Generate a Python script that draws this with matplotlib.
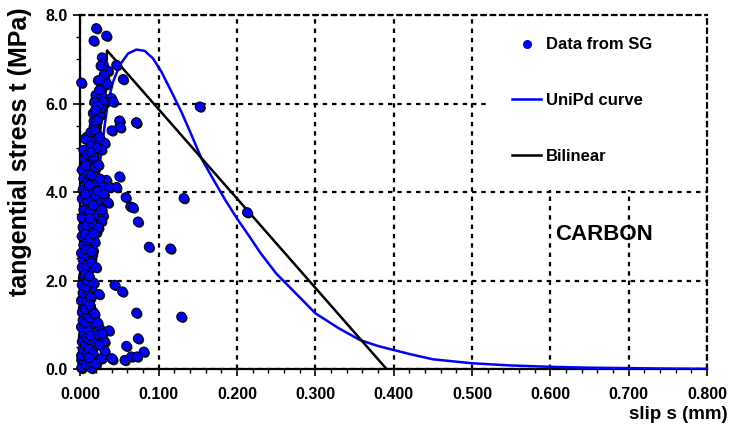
import matplotlib
matplotlib.use("Agg")
import matplotlib.pyplot as plt
import matplotlib.patheffects as pe
from matplotlib.lines import Line2D
from matplotlib.patches import Rectangle
from matplotlib.ticker import MultipleLocator, FormatStrFormatter

plt.rcParams['font.family'] = ['Liberation Sans', 'DejaVu Sans']
plt.rcParams['font.weight'] = 'bold'

# ---- data ----
sg_slip = [
    0.0203, 0.0332, 0.0170, 0.0013, 0.0276, 0.0289, 0.0353, 0.0460, 0.0545, 0.0225,
    0.0310, 0.0268, 0.0340, 0.0195, 0.0280, 0.0396, 0.0180, 0.0320,
    0.0183, 0.0289, 0.0417, 0.0161, 0.0247, 0.0500, 0.0715, 0.0500, 0.0400, 0.0170,
    0.0204, 0.0077, 0.0153, 0.0247, 0.0310, 0.0119, 0.0195, 0.0268, 0.0128, 0.0097,
    0.0153, 0.0128, 0.0500, 0.0119, 0.0247, 0.0332, 0.0183, 0.0289, 0.0374, 0.0460,
    0.0077, 0.0140, 0.0097,
    0.0097, 0.0204, 0.0580, 0.0353, 0.0640, 0.0672, 0.0119, 0.0225, 0.0268, 0.0119,
    0.0204, 0.0289, 0.0268, 0.0736, 0.0097, 0.0204, 0.0097, 0.0204, 0.0077, 0.0183,
    0.0876, 0.0077, 0.0161, 0.0055, 0.0140, 0.0055, 0.0119, 0.0055, 0.0119, 0.0033,
    0.0438, 0.0536, 0.0715, 0.1290, 0.1150, 0.1320, 0.1525, 0.2130,
    0.0365, 0.0587, 0.0736, 0.0810, 0.0566, 0.0650, 0.0723, 0.0410, 0.0268, 0.0310,
    0.0247, 0.0310,
    0.0238, 0.0055, 0.0140, 0.0055, 0.0119, 0.0033, 0.0055, 0.0161, 0.0055, 0.0119,
    0.0033, 0.0204, 0.0289, 0.0077, 0.0161, 0.0033, 0.0119, 0.0400, 0.0013, 0.0077,
    0.0013, 0.0140,
    0.0500, 0.0510, 0.0715,
    0.002, 0.004, 0.001, 0.003, 0.002, 0.004, 0.001, 0.003, 0.002, 0.004,
    0.001, 0.003, 0.002, 0.004, 0.002, 0.003, 0.001, 0.004, 0.002, 0.003,
    0.002, 0.004, 0.002, 0.003, 0.004, 0.002, 0.005, 0.004, 0.006,
    0.007, 0.009, 0.006, 0.008, 0.010, 0.007, 0.009, 0.006, 0.008, 0.010,
    0.007, 0.009, 0.006, 0.008, 0.010, 0.007, 0.009, 0.006, 0.008, 0.010,
    0.007, 0.009, 0.006, 0.008, 0.010, 0.007, 0.009,
    0.013, 0.015, 0.012, 0.016, 0.014, 0.012, 0.015, 0.013, 0.016, 0.014,
    0.013, 0.017,
    0.012, 0.016, 0.019, 0.022, 0.025, 0.014, 0.019, 0.023, 0.017, 0.021,
    0.024, 0.018, 0.021, 0.026, 0.023, 0.019, 0.024, 0.030, 0.026, 0.030,
    0.027, 0.023, 0.017, 0.015, 0.020, 0.017, 0.013, 0.018, 0.022, 0.011,
    0.016, 0.020, 0.024, 0.028, 0.0246,
    0.011, 0.013, 0.012, 0.011, 0.014, 0.012, 0.011, 0.013,
]
sg_stress = [
    7.70, 7.53, 7.42, 6.47, 7.04, 6.89, 6.74, 6.87, 6.55, 6.52,
    6.55, 6.34, 6.44, 6.19, 6.17, 6.12, 6.04, 6.04,
    6.02, 6.04, 6.04, 5.78, 5.74, 5.61, 5.57, 5.48, 5.39, 5.48,
    5.33, 5.24, 5.16, 5.14, 5.11, 4.99, 4.96, 4.96, 4.86, 4.71,
    4.66, 4.56, 4.35, 4.31, 4.21, 4.27, 4.16, 4.11, 4.11, 4.11,
    4.05, 4.05, 4.11,
    3.98, 4.01, 3.88, 3.76, 3.67, 3.65, 3.78, 3.78, 3.63, 3.58,
    3.48, 3.48, 3.35, 3.33, 3.33, 3.25, 3.14, 3.10, 2.95, 2.88,
    2.76, 2.76, 2.69, 2.58, 2.50, 2.39, 2.28, 2.20, 2.05, 2.05,
    1.90, 1.75, 1.27, 1.18, 2.72, 3.86, 5.93, 3.54,
    0.87, 0.52, 0.69, 0.39, 0.20, 0.28, 0.28, 0.22, 0.24, 0.41,
    0.92, 0.62,
    1.69, 1.86, 1.82, 1.60, 1.45, 1.37, 1.22, 1.03, 0.96, 0.81,
    0.73, 0.77, 0.62, 0.58, 0.50, 0.39, 0.32, 0.24, 0.20, 0.13,
    0.02, 0.02,
    5.61, 5.46, 5.57,
    0.05, 0.18, 0.30, 0.45, 0.62, 0.80, 0.95, 1.10, 1.28, 1.42,
    1.55, 1.72, 1.90, 2.12, 2.30, 2.48, 2.62, 2.80, 3.00, 3.20,
    3.42, 3.60, 3.85, 4.05, 4.30, 4.50, 4.75, 4.95, 5.20,
    0.10, 0.35, 0.55, 0.70, 0.88, 1.05, 1.20, 1.35, 1.52, 1.68,
    1.85, 2.00, 2.15, 2.35, 2.55, 2.70, 2.90, 3.05, 3.25, 3.45,
    3.62, 3.80, 3.95, 4.20, 4.40, 4.60, 4.85,
    0.15, 0.60, 1.15, 1.30, 2.40, 2.95, 3.30, 3.65, 4.45, 5.05,
    5.35, 5.60,
    3.55, 3.70, 3.92, 4.02, 4.30, 4.38, 4.55, 4.62, 4.80, 5.00,
    5.25, 5.40, 5.62, 5.90, 5.95, 5.85, 6.30, 6.65, 6.85, 3.95,
    3.60, 3.20, 3.05, 2.60, 2.30, 1.95, 1.62, 1.25, 1.05, 0.45,
    0.35, 0.12, 0.55, 0.80, 6.53,
    0.25, 0.75, 1.45, 2.10, 2.65, 3.40, 4.15, 4.90,
]

unipd_slip = [0.000, 0.005, 0.010, 0.015, 0.020, 0.0225, 0.0246, 0.0268, 0.031, 0.0353,
              0.0417, 0.0502, 0.0608, 0.0715, 0.0821, 0.0927, 0.1034, 0.1162, 0.129, 0.1418,
              0.1545, 0.1715, 0.185, 0.200, 0.216, 0.230, 0.250, 0.270, 0.300, 0.330,
              0.357, 0.380, 0.400, 0.420, 0.450, 0.500, 0.550, 0.600, 0.650, 0.700,
              0.750, 0.800]
unipd_stress = [0.00, 0.95, 1.90, 2.80, 3.70, 4.23, 4.61, 4.91, 5.51, 6.04,
                6.49, 6.87, 7.13, 7.22, 7.19, 7.02, 6.72, 6.27, 5.81, 5.29,
                4.76, 4.23, 3.82, 3.40, 2.99, 2.62, 2.16, 1.80, 1.26, 0.92,
                0.655, 0.52, 0.43, 0.34, 0.22, 0.13, 0.08, 0.05, 0.03, 0.02,
                0.01, 0.005]

bilinear_slip = [0.000, 0.034, 0.391]
bilinear_stress = [0.00, 7.20, 0.00]

x_ticks = [0.0, 0.1, 0.2, 0.3, 0.4, 0.5, 0.6, 0.7, 0.8]
y_ticks = [0.0, 2.0, 4.0, 6.0, 8.0]
legend_labels = ['Data from SG', 'UniPd curve', 'Bilinear']

# ---- figure ----
fig = plt.figure(figsize=(7.31, 4.43), dpi=100)
ax = fig.add_axes([0.110, 0.167, 0.857, 0.799])

dash = (0, (2.0, 2.2))
ax.grid(True, color='black', linestyle=dash, linewidth=1.6)
ax.set_axisbelow(True)

# white legend area covering the grid
ax.add_patch(Rectangle((0.654, 0.506), 0.346, 0.494, transform=ax.transAxes,
                       facecolor='white', edgecolor='none', zorder=1.5))

ax.plot(unipd_slip, unipd_stress, color='#0000FF', linewidth=1.8, zorder=3,
        solid_joinstyle='round')
ax.plot(bilinear_slip, bilinear_stress, color='black', linewidth=1.8, zorder=4)

sc = ax.scatter(sg_slip, sg_stress, s=46, facecolor='#0000FF', edgecolor='black',
                linewidth=0.7, zorder=5, clip_on=False)
sc.set_path_effects([pe.SimplePatchShadow(offset=(1.0, -1.0), shadow_rgbFace='black', alpha=0.9),
                     pe.Normal()])

ax.set_xlim(0, 0.8)
ax.set_ylim(0, 8)
ax.set_xticks(x_ticks)
ax.set_yticks(y_ticks)
ax.xaxis.set_minor_locator(MultipleLocator(0.02))
ax.yaxis.set_minor_locator(MultipleLocator(0.5))
ax.xaxis.set_major_formatter(FormatStrFormatter('%.3f'))
ax.yaxis.set_major_formatter(FormatStrFormatter('%.1f'))
ax.tick_params(axis='both', which='major', direction='out', length=5, width=1.2,
               labelsize=11.5, pad=4)
ax.tick_params(axis='both', which='minor', direction='out', length=3, width=1.0)
ax.tick_params(axis='x', which='both', pad=8)
for lab in ax.get_xticklabels() + ax.get_yticklabels():
    lab.set_fontweight('bold')

for side in ['left', 'bottom']:
    ax.spines[side].set_linewidth(1.6)
for side in ['top', 'right']:
    ax.spines[side].set_linestyle(dash)
    ax.spines[side].set_linewidth(1.6)

fig.text(0.028, 0.657, 'tangential stress t (MPa)', rotation=90, ha='center', va='center',
         fontsize=18, fontweight='bold')
fig.text(0.996, 0.045, 'slip s (mm)', ha='right', va='bottom', fontsize=13.5, fontweight='bold')

ax.text(0.835, 0.38, 'CARBON', transform=ax.transAxes, ha='center', va='center',
        fontsize=16, fontweight='bold')

handles = [Line2D([], [], marker='o', linestyle='none', markerfacecolor='#0000FF',
                  markeredgecolor='#0000FF', markersize=5.5),
           Line2D([], [], color='#0000FF', linewidth=1.8),
           Line2D([], [], color='black', linewidth=1.8)]
leg = ax.legend(handles, legend_labels, loc='upper left', bbox_to_anchor=(0.689, 0.937),
                frameon=False, prop={'weight': 'bold', 'size': 12},
                handlelength=1.75, handletextpad=0.3, labelspacing=2.45,
                borderpad=0, borderaxespad=0)
leg.set_zorder(10)

fig.savefig('out.png', dpi=100)
